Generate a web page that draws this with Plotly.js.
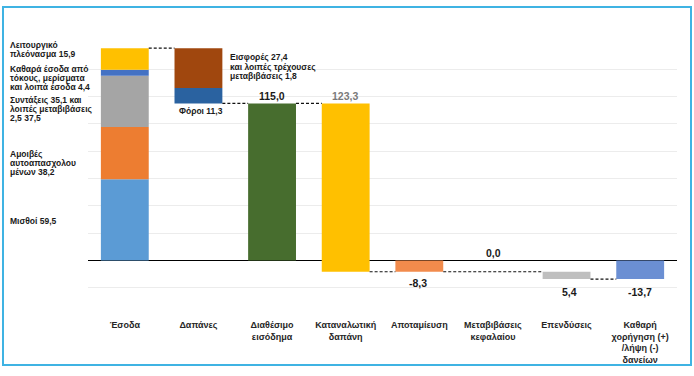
<!DOCTYPE html>
<html>
<head>
<meta charset="utf-8">
<script src="https://cdn.plot.ly/plotly-3.0.1.min.js"></script>
<style>
  body { margin: 0; background: #fff; }
  #wrap { position: relative; width: 694px; height: 376px; }
  #chart { width: 694px; height: 376px; }
  #frame { position: absolute; left: 2px; top: 6px; width: 686px; height: 356px;
           border: 2px solid #3fb3e3; pointer-events: none; }
</style>
</head>
<body>
<div id="wrap"><div id="chart"></div><div id="frame"></div></div>
<script>
// ---- data ----
const categories = ["Έσοδα", "Δαπάνες", "Διαθέσιμο<br>εισόδημα", "Καταναλωτική<br>δαπάνη",
  "Αποταμίευση", "Μεταβιβάσεις<br>κεφαλαίου", "Επενδύσεις", "Καθαρή<br>χορήγηση (+)<br>/λήψη (-)<br>δανείων"];
const incomeParts = [59.5, 38.2, 37.5, 4.4, 15.9];   // Μισθοί, Αμοιβές αυτοαπασχ., Συντάξεις, Καθαρά έσοδα τόκων, Λειτουργικό πλεόνασμα
const expenseParts = [11.3, 27.4 + 1.8];              // Φόροι, Εισφορές & λοιπές τρέχουσες μεταβιβάσεις
const disposable = 115.0;
const consumption = 123.3;
const saving = -8.3;
const capitalTransfers = 0.0;
const investment = 5.4;
const netLending = -13.7;
const valueLabels = ["115,0", "123,3", "-8,3", "0,0", "5,4", "-13,7"];

// ---- styles ----
const incomeColors = ["#5b9bd5", "#ed7d31", "#a5a5a5", "#4472c4", "#ffc000"];
const expenseColors = ["#2a62a0", "#a0470e"];
const W = 0.65;

const traces = [];
let cum = 0;
incomeParts.forEach((v, i) => {
  traces.push({type: "bar", x: [categories[0]], y: [v], base: [cum], width: W,
    marker: {color: incomeColors[i]}, hoverinfo: "none"});
  cum += v;
});
const incomeTotal = cum;
let expTop = disposable;
expenseParts.forEach((v, i) => {
  traces.push({type: "bar", x: [categories[1]], y: [v], base: [expTop], width: W,
    marker: {color: expenseColors[i]}, hoverinfo: "none"});
  expTop += v;
});
const consBottom = disposable - consumption;
traces.push({type: "bar", x: [categories[2]], y: [disposable], base: [0], width: W, marker: {color: "#476d2e"}, hoverinfo: "none"});
traces.push({type: "bar", x: [categories[3]], y: [consumption], base: [consBottom], width: W, marker: {color: "#ffc000"}, hoverinfo: "none"});
traces.push({type: "bar", x: [categories[4]], y: [saving], base: [0], width: W, marker: {color: "#f28b4c"}, hoverinfo: "none"});
traces.push({type: "bar", x: [categories[5]], y: [capitalTransfers], base: [0], width: W, marker: {color: "#a5a5a5"}, hoverinfo: "none"});
traces.push({type: "bar", x: [categories[6]], y: [-investment], base: [saving], width: W, marker: {color: "#bfbfbf"}, hoverinfo: "none"});
traces.push({type: "bar", x: [categories[7]], y: [netLending], base: [0], width: W, marker: {color: "#6b8fd3"}, hoverinfo: "none"});

// connectors (index-based positions on category axis)
function conn(i0, i1, yv) {
  return {type: "line", xref: "x", yref: "y", x0: i0 + W / 2, x1: i1 - W / 2, y0: yv, y1: yv,
    line: {color: "#111", width: 1.2, dash: "3px,2px"}};
}
const shapes = [
  conn(0, 1, incomeTotal),
  conn(1, 2, disposable),
  conn(2, 3, disposable),
  conn(3, 4, consBottom),
  conn(4, 6, saving),
  conn(6, 7, saving - investment)
];

// pixel helpers for annotations
const L = 88, R = 677, T = 42, B = 315;
const px = x => (x - L) / (R - L);
const py = y => (B - y) / (B - T);
const lf = {family: "Liberation Sans, Arial, sans-serif", size: 8.5, color: "#1a1a1a"};
function lab(text, x, y, anchor, font) {
  return {text: "<b>" + text + "</b>", xref: "paper", yref: "paper", x: px(x), y: py(y),
    xanchor: anchor || "left", yanchor: "middle", showarrow: false, font: font || lf};
}
const leftLines = [
  ["Λειτουργικό", 45], ["πλεόνασμα 15,9", 54],
  ["Καθαρά έσοδα από", 69], ["τόκους, μερίσματα", 78], ["και λοιπά έσοδα 4,4", 87],
  ["Συντάξεις 35,1 και", 100], ["λοιπές μεταβιβάσεις", 109], ["2,5 37,5", 118],
  ["Αμοιβές", 154], ["αυτοαπασχολου", 163], ["μένων 38,2", 172],
  ["Μισθοί 59,5", 221]
];
const annotations = leftLines.map(l => lab(l[0], 8, l[1]));
[["Εισφορές 27,4", 57], ["και λοιπές τρέχουσες", 67], ["μεταβιβάσεις 1,8", 76]].forEach(l =>
  annotations.push(lab(l[0], 228, l[1])));
annotations.push(lab("Φόροι 11,3", 177, 111));
const vf = {family: "Liberation Sans, Arial, sans-serif", size: 10.5, color: "#1a1a1a"};
const vfg = Object.assign({}, vf, {color: "#7a7a7a"});
annotations.push(lab(valueLabels[0], 272, 96, "center", vf));
annotations.push(lab(valueLabels[1], 345, 96, "center", vfg));
annotations.push(lab(valueLabels[2], 418, 283, "center", vf));
annotations.push(lab(valueLabels[3], 493, 253, "center", vf));
annotations.push(lab(valueLabels[4], 569, 292, "center", vf));
annotations.push(lab(valueLabels[5], 640, 292, "center", vf));

const layout = {
  width: 694, height: 376,
  margin: {l: L, r: 694 - R, t: T, b: 376 - B},
  paper_bgcolor: "#fff", plot_bgcolor: "#fff",
  barmode: "overlay", showlegend: false,
  xaxis: {type: "category", categoryarray: categories, categoryorder: "array",
    tickvals: categories, ticktext: categories.map(c => "<b>" + c + "</b>"),
    showgrid: false, showline: false, ticks: "", zeroline: false, ticklabelstandoff: 3,
    tickfont: {family: "Liberation Sans, Arial, sans-serif", size: 9, color: "#262626"},
    fixedrange: true},
  yaxis: {range: [-40, 160], dtick: 20, showticklabels: false, gridcolor: "#ececec", gridwidth: 1,
    zeroline: true, zerolinecolor: "#000", zerolinewidth: 1.5, showline: false, fixedrange: true},
  shapes: shapes,
  annotations: annotations
};
Plotly.newPlot("chart", traces, layout, {displayModeBar: false, staticPlot: true});
</script>
</body>
</html>
